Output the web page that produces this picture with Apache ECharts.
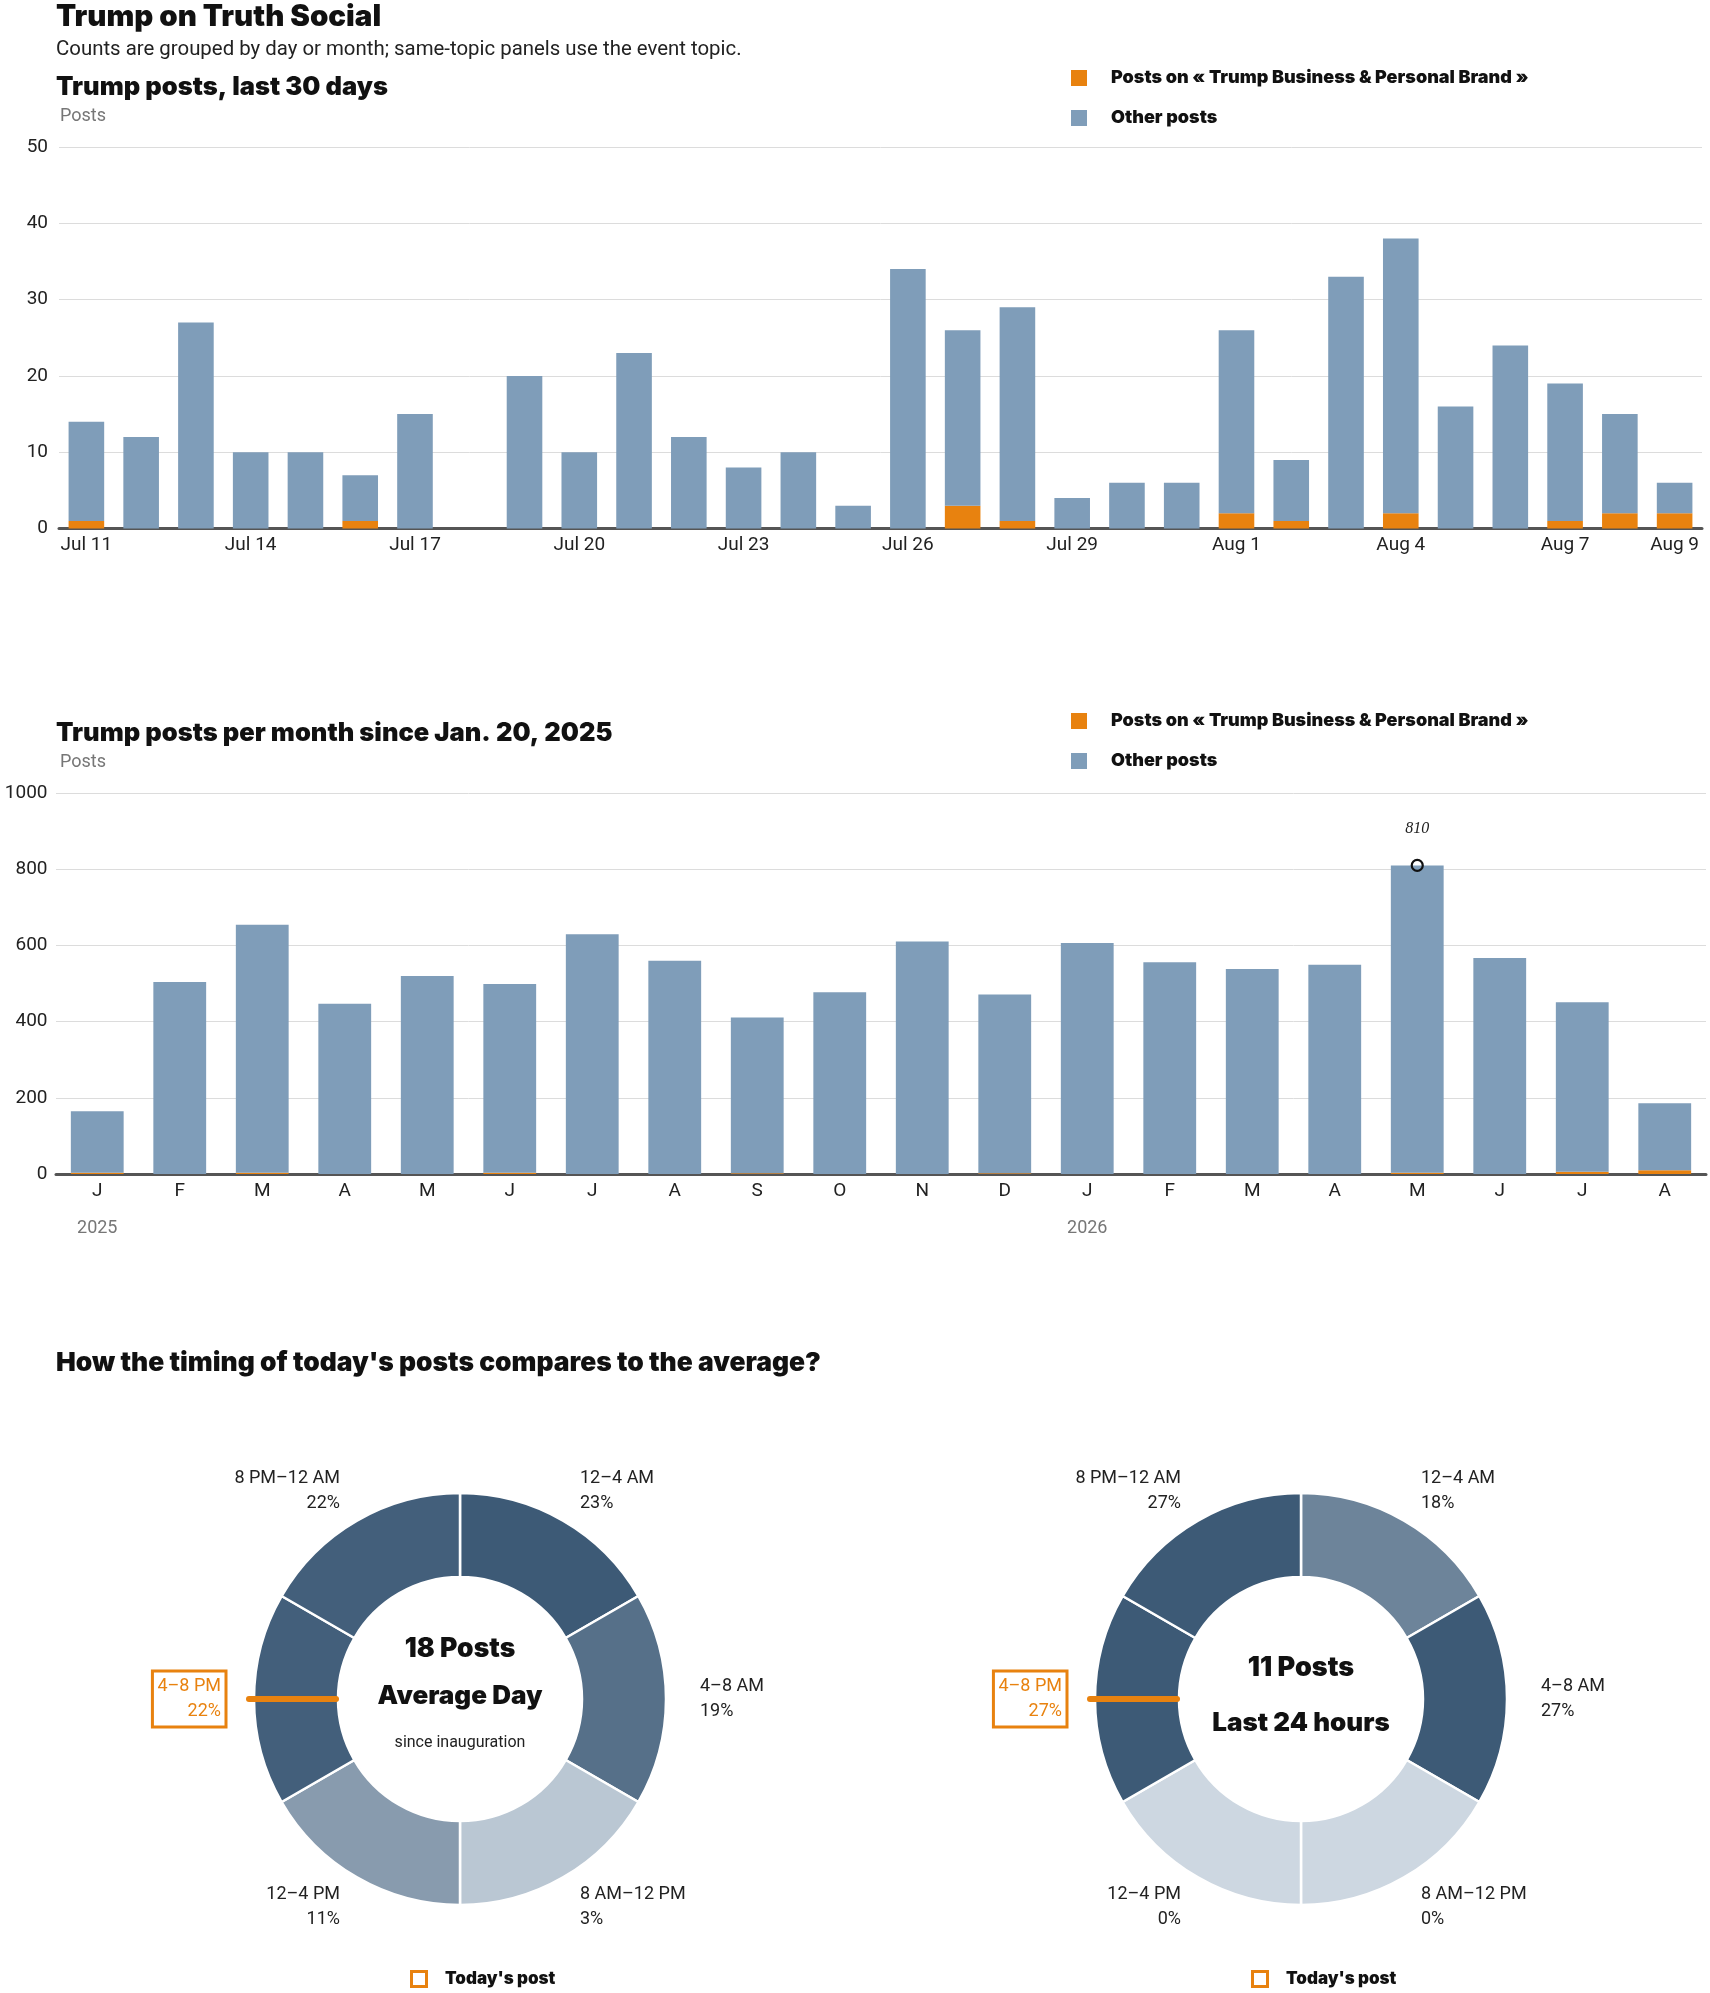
<!DOCTYPE html>
<html>
<head>
<meta charset="utf-8">
<script src="https://cdn.jsdelivr.net/npm/echarts@6/dist/echarts.min.js"></script>
<style>
html,body{margin:0;padding:0;background:#fff;}
#c{width:1710px;height:1993px;}
</style>
</head>
<body>
<div id="c"></div>
<script>
// ---------- DATA ----------
const TOPIC_NAME = 'Posts on « Trump Business & Personal Brand »';
const OTHER_NAME = 'Other posts';

// Last 30 days
const DAYS = ['Jul 11','Jul 12','Jul 13','Jul 14','Jul 15','Jul 16','Jul 17','Jul 18','Jul 19','Jul 20',
  'Jul 21','Jul 22','Jul 23','Jul 24','Jul 25','Jul 26','Jul 27','Jul 28','Jul 29','Jul 30',
  'Jul 31','Aug 1','Aug 2','Aug 3','Aug 4','Aug 5','Aug 6','Aug 7','Aug 8','Aug 9'];
const DAY_TOPIC = [1,0,0,0,0,1,0,0,0,0, 0,0,0,0,0,0,3,1,0,0, 0,2,1,0,2,0,0,1,2,2];
const DAY_OTHER = [13,12,27,10,10,6,15,0,20,10, 23,12,8,10,3,34,23,28,4,6, 6,24,8,33,36,16,24,18,13,4];

// Monthly since Jan. 20, 2025
const MONTHS = ['2025-01','2025-02','2025-03','2025-04','2025-05','2025-06','2025-07','2025-08','2025-09','2025-10',
  '2025-11','2025-12','2026-01','2026-02','2026-03','2026-04','2026-05','2026-06','2026-07','2026-08'];
const MONTH_TICKS = ['J','F','M','A','M','J','J','A','S','O','N','D','J','F','M','A','M','J','J','A'];
const YEAR_TICKS = {'2025-01':'2025','2026-01':'2026'};
const MONTH_TOPIC = [3,0,3,0,0,3,0,0,2,0, 0,2,0,0,0,0,3,0,6,10];
const MONTH_OTHER = [162,504,651,447,520,496,629,560,409,477, 610,469,606,556,538,549,807,567,445,176];

// Timing donuts (six 4-hour slots drawn as equal clock sectors)
const SLOTS = ['12–4 AM','4–8 AM','8 AM–12 PM','12–4 PM','4–8 PM','8 PM–12 AM'];
const SLOT_WEIGHT = [1,1,1,1,1,1];
const AVG_PCT = [23,19,3,11,22,22];
const TODAY_PCT = [18,27,0,0,27,27];
const TODAY_SLOT = 4;
const AVG_POSTS = 18;
const TODAY_POSTS = 11;

// ---------- STYLE ----------
const ORANGE = '#e8820f';
const BLUE = '#7f9db9';
const F_REG = "Roboto, 'Liberation Sans', sans-serif";
const F_HEAVY = "Inter, Roboto, 'Liberation Sans', sans-serif";
const W_HEAVY = 900;
const LIGHT = [205,215,225], DARK = [61,90,118];
function shade(p, max){
  const t = max ? p/max : 0;
  const c = LIGHT.map((l,i)=>Math.round(l + (DARK[i]-l)*t));
  return 'rgb(' + c.join(',') + ')';
}

const chart = echarts.init(document.getElementById('c'), null, {renderer:'canvas'});

const monthTotals = MONTH_TOPIC.map((v,i)=>v + MONTH_OTHER[i]);
const peakIdx = monthTotals.indexOf(Math.max(...monthTotals));

const DONUTS = [
  {cx:460, cy:1699, pct:AVG_PCT, lines:[[AVG_POSTS + ' Posts', -50, 26.5, W_HEAVY],['Average Day', -3, 26, W_HEAVY],['since inauguration', 44, 16, 400]]},
  {cx:1301, cy:1699, pct:TODAY_PCT, lines:[[TODAY_POSTS + ' Posts', -31, 27, W_HEAVY],['Last 24 hours', 24, 26, W_HEAVY]]}
];
const R0 = 122, R1 = 206;

function pieSeries(d){
  const max = Math.max(...d.pct);
  return {
    type:'pie', silent:true, center:[d.cx, d.cy], radius:[R0, R1], startAngle:90, clockwise:true,
    avoidLabelOverlap:false, animation:false, z:2,
    itemStyle:{borderColor:'#fff', borderWidth:2.5},
    label:{show:true, position:'outside', distanceToLabelLine:0, fontFamily:F_REG, fontSize:18, lineHeight:25, color:'#222',
      formatter:(p)=> SLOTS[p.dataIndex] + '\n' + d.pct[p.dataIndex] + '%'},
    labelLine:{show:false, length:34, length2:0},
    emphasis:{disabled:true},
    data: SLOTS.map((s,i)=>{
      const item = {name:s, value:SLOT_WEIGHT[i], itemStyle:{color:shade(d.pct[i], max)}};
      if (i === TODAY_SLOT){
        item.label = {color:ORANGE, borderColor:ORANGE, borderWidth:3, padding:[4,5,2,5]};
        item.labelLine = {show:false, length:28, length2:0};
      }
      return item;
    })
  };
}

const graphics = [];
DONUTS.forEach(d=>{
  d.lines.forEach(l=>{
    graphics.push({type:'text', x:d.cx, y:d.cy + l[1], silent:true, z:100,
      style:{text:l[0], fontSize:l[2], fontWeight:l[3], fontFamily:l[3]>500?F_HEAVY:F_REG, fill:l[3]>500?'#111':'#222', align:'center', verticalAlign:'middle'}});
  });
  const th = (TODAY_SLOT + 0.5) / SLOTS.length * 2 * Math.PI;
  const sx = Math.sin(th), sy = -Math.cos(th);
  graphics.push({type:'line', silent:true, z:100, shape:{x1:d.cx + sx*211, y1:d.cy + sy*211, x2:d.cx + sx*124, y2:d.cy + sy*124},
    style:{stroke:ORANGE, lineWidth:6, lineCap:'round'}});
  graphics.push({type:'rect', silent:true, z:100, shape:{x:d.cx-48.5, y:1971.5, width:15, height:15},
    style:{fill:'none', stroke:ORANGE, lineWidth:3}});
  graphics.push({type:'text', silent:true, z:100, x:d.cx-15, y:1979,
    style:{text:"Today's post", fontSize:17, fontWeight:W_HEAVY, fontFamily:F_HEAVY, fill:'#111', verticalAlign:'middle', align:'left'}});
});

function ttl(text, left, top, size, weight, color){
  return {text, left, top, padding:0, textStyle:{fontFamily: weight>500?F_HEAVY:F_REG, fontSize:size, lineHeight:size, fontWeight:weight, color}};
}

const legendBase = (top)=>({
  orient:'vertical', left:1071, top, padding:0, itemWidth:16, itemHeight:16, itemGap:22, icon:'rect',
  selectedMode:false,
  textStyle:{fontFamily:F_HEAVY, fontWeight:W_HEAVY, fontSize:18, lineHeight:16, color:'#111', padding:[0,0,0,19]},
  data:[TOPIC_NAME, OTHER_NAME]
});

const axisLabelStyle = {fontFamily:F_REG, fontSize:19, color:'#222'};

const option = {
  backgroundColor:'#fff',
  animation:false,
  title:[
    ttl('Trump on Truth Social', 56, 2, 29.5, W_HEAVY, '#111'),
    ttl('Counts are grouped by day or month; same-topic panels use the event topic.', 56, 40, 20.4, 400, '#222'),
    ttl('Trump posts, last 30 days', 56, 75, 25.5, W_HEAVY, '#111'),
    ttl('Posts', 60, 107, 18, 400, '#767676'),
    ttl('Trump posts per month since Jan. 20, 2025', 56, 721, 25.5, W_HEAVY, '#111'),
    ttl('Posts', 60, 753, 18, 400, '#767676'),
    ttl("How the timing of today's posts compares to the average?", 56, 1350, 26.4, W_HEAVY, '#111')
  ],
  legend:[legendBase(69), legendBase(712)],
  grid:[
    {left:59, top:147, width:1643, height:381.6},
    {left:56, top:793, width:1650, height:381}
  ],
  xAxis:[
    {type:'category', gridIndex:0, data:DAYS, axisTick:{show:false},
     axisLine:{lineStyle:{color:'#555', width:3}},
     axisLabel:Object.assign({margin:7, interval:(i)=> i%3===0 || i===DAYS.length-1}, axisLabelStyle)},
    {type:'category', gridIndex:1, position:'bottom', data:MONTHS, axisTick:{show:false},
     axisLine:{lineStyle:{color:'#555', width:3}},
     axisLabel:Object.assign({margin:8, interval:0, formatter:(v,i)=>MONTH_TICKS[i]}, axisLabelStyle)},
    {type:'category', gridIndex:1, position:'bottom', offset:0, data:MONTHS, axisTick:{show:false}, axisLine:{show:false},
     axisLabel:{margin:45, interval:0, fontFamily:F_REG, fontSize:18, color:'#767676', formatter:(v)=>YEAR_TICKS[v]||''}}
  ],
  yAxis:[
    {type:'value', gridIndex:0, min:0, max:50, interval:10, axisLine:{show:false}, axisTick:{show:false},
     splitLine:{lineStyle:{color:'#dcdcdc', width:1}}, axisLabel:Object.assign({margin:11}, axisLabelStyle)},
    {type:'value', gridIndex:1, min:0, max:1000, interval:200, axisLine:{show:false}, axisTick:{show:false},
     splitLine:{lineStyle:{color:'#dcdcdc', width:1}}, axisLabel:Object.assign({margin:8.5, formatter:(v)=>String(v)}, axisLabelStyle)}
  ],
  series:[
    {type:'bar', name:TOPIC_NAME, xAxisIndex:0, yAxisIndex:0, stack:'d', data:DAY_TOPIC, barWidth:'65%', itemStyle:{color:ORANGE}, silent:true},
    {type:'bar', name:OTHER_NAME, xAxisIndex:0, yAxisIndex:0, stack:'d', data:DAY_OTHER, barWidth:'65%', itemStyle:{color:BLUE}, silent:true},
    {type:'bar', name:TOPIC_NAME, xAxisIndex:1, yAxisIndex:1, stack:'m', data:MONTH_TOPIC, barWidth:'64%', itemStyle:{color:ORANGE}, silent:true},
    {type:'bar', name:OTHER_NAME, xAxisIndex:1, yAxisIndex:1, stack:'m', data:MONTH_OTHER, barWidth:'64%', itemStyle:{color:BLUE}, silent:true,
     markPoint:{silent:true, symbol:'circle', symbolSize:11,
       itemStyle:{color:'rgba(0,0,0,0)', borderColor:'#111', borderWidth:2.2},
       label:{show:true, position:'top', distance:22, fontFamily:"'Liberation Serif','DejaVu Serif',serif", fontStyle:'italic', fontSize:16, color:'#222', formatter:(p)=>String(p.value)},
       data:[{coord:[peakIdx, monthTotals[peakIdx]], value:monthTotals[peakIdx]}]}},
    pieSeries(DONUTS[0]),
    pieSeries(DONUTS[1])
  ],
  graphic:graphics
};
chart.setOption(option);
</script>
</body>
</html>
